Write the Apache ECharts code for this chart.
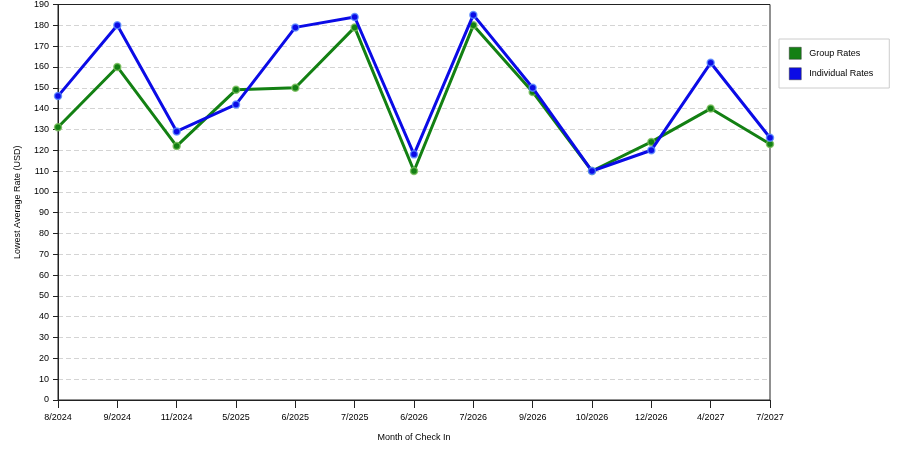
<!DOCTYPE html>
<html>
<head>
<meta charset="utf-8">
<script src="https://cdn.jsdelivr.net/npm/echarts@6/dist/echarts.min.js"></script>
<style>
  html, body { margin: 0; padding: 0; background: #fff; }
  #chart { width: 900px; height: 450px; }
</style>
</head>
<body>
<div id="chart"></div>
<script>
// months of check in
var months = ['8/2024', '9/2024', '11/2024', '5/2025', '6/2025', '7/2025', '6/2026',
              '7/2026', '9/2026', '10/2026', '12/2026', '4/2027', '7/2027'];
var groupRates = [131, 160, 122, 149, 150, 179, 110, 180, 148, 110, 124, 140, 123];
var individualRates = [146, 180, 129, 142, 179, 184, 118, 185, 150, 110, 120, 162, 126];

var seriesNames = ['Group Rates', 'Individual Rates'];
var seriesColors = ['#138013', '#0b0be6'];
var haloColors = ['rgba(120,190,90,0.8)', 'rgba(90,140,255,0.8)'];

var font = 'Liberation Sans, Arial, sans-serif';

var chart = echarts.init(document.getElementById('chart'), null, { renderer: 'canvas' });

function makeSeries(idx, data) {
  return {
    name: seriesNames[idx],
    type: 'line',
    data: data,
    symbol: 'circle',
    symbolSize: 7,
    lineStyle: { color: seriesColors[idx], width: 3 },
    itemStyle: { color: seriesColors[idx], borderColor: haloColors[idx], borderWidth: 1.5 },
    emphasis: { disabled: true },
    z: 3 + idx
  };
}

var option = {
  animation: false,
  backgroundColor: '#fff',
  grid: { left: 58, right: 130, top: 4, bottom: 50, show: true, borderColor: '#222', borderWidth: 1, backgroundColor: 'transparent' },
  legend: {
    orient: 'vertical',
    left: 779,
    top: 39,
    padding: [8, 16, 8, 10],
    itemGap: 8,
    itemWidth: 12,
    itemHeight: 12,
    icon: 'rect',
    backgroundColor: '#fff',
    borderColor: '#ccc',
    borderWidth: 1,
    textStyle: { fontFamily: font, fontSize: 9, color: '#000', padding: [0, 0, 0, 3] },
    data: seriesNames.map(function (n, i) {
      return { name: n, itemStyle: { color: seriesColors[i], borderColor: '#333', borderWidth: 0.5 } };
    })
  },
  xAxis: {
    type: 'category',
    data: months,
    boundaryGap: false,
    name: 'Month of Check In',
    nameLocation: 'middle',
    nameGap: 33,
    nameTextStyle: { fontFamily: font, fontSize: 9, color: '#000' },
    axisLine: { lineStyle: { color: '#222', width: 1 } },
    axisTick: { show: true, length: 8, lineStyle: { color: '#222' } },
    axisLabel: { fontFamily: font, fontSize: 9, color: '#000', margin: 13, interval: 0 },
    splitLine: { show: false }
  },
  yAxis: {
    type: 'value',
    min: 0,
    max: 190,
    interval: 10,
    name: 'Lowest Average Rate (USD)',
    nameLocation: 'middle',
    nameGap: 36,
    nameTextStyle: { fontFamily: font, fontSize: 9, color: '#000' },
    axisLine: { show: true, lineStyle: { color: '#222', width: 1 } },
    axisTick: { show: true, length: 5, lineStyle: { color: '#222' } },
    axisLabel: { fontFamily: font, fontSize: 9, color: '#000', margin: 9 },
    splitLine: { show: true, showMinLine: false, showMaxLine: false, lineStyle: { color: '#d4d4d4', type: [5, 3], width: 1 } }
  },
  series: [makeSeries(0, groupRates), makeSeries(1, individualRates)]
};

chart.setOption(option);
</script>
</body>
</html>
